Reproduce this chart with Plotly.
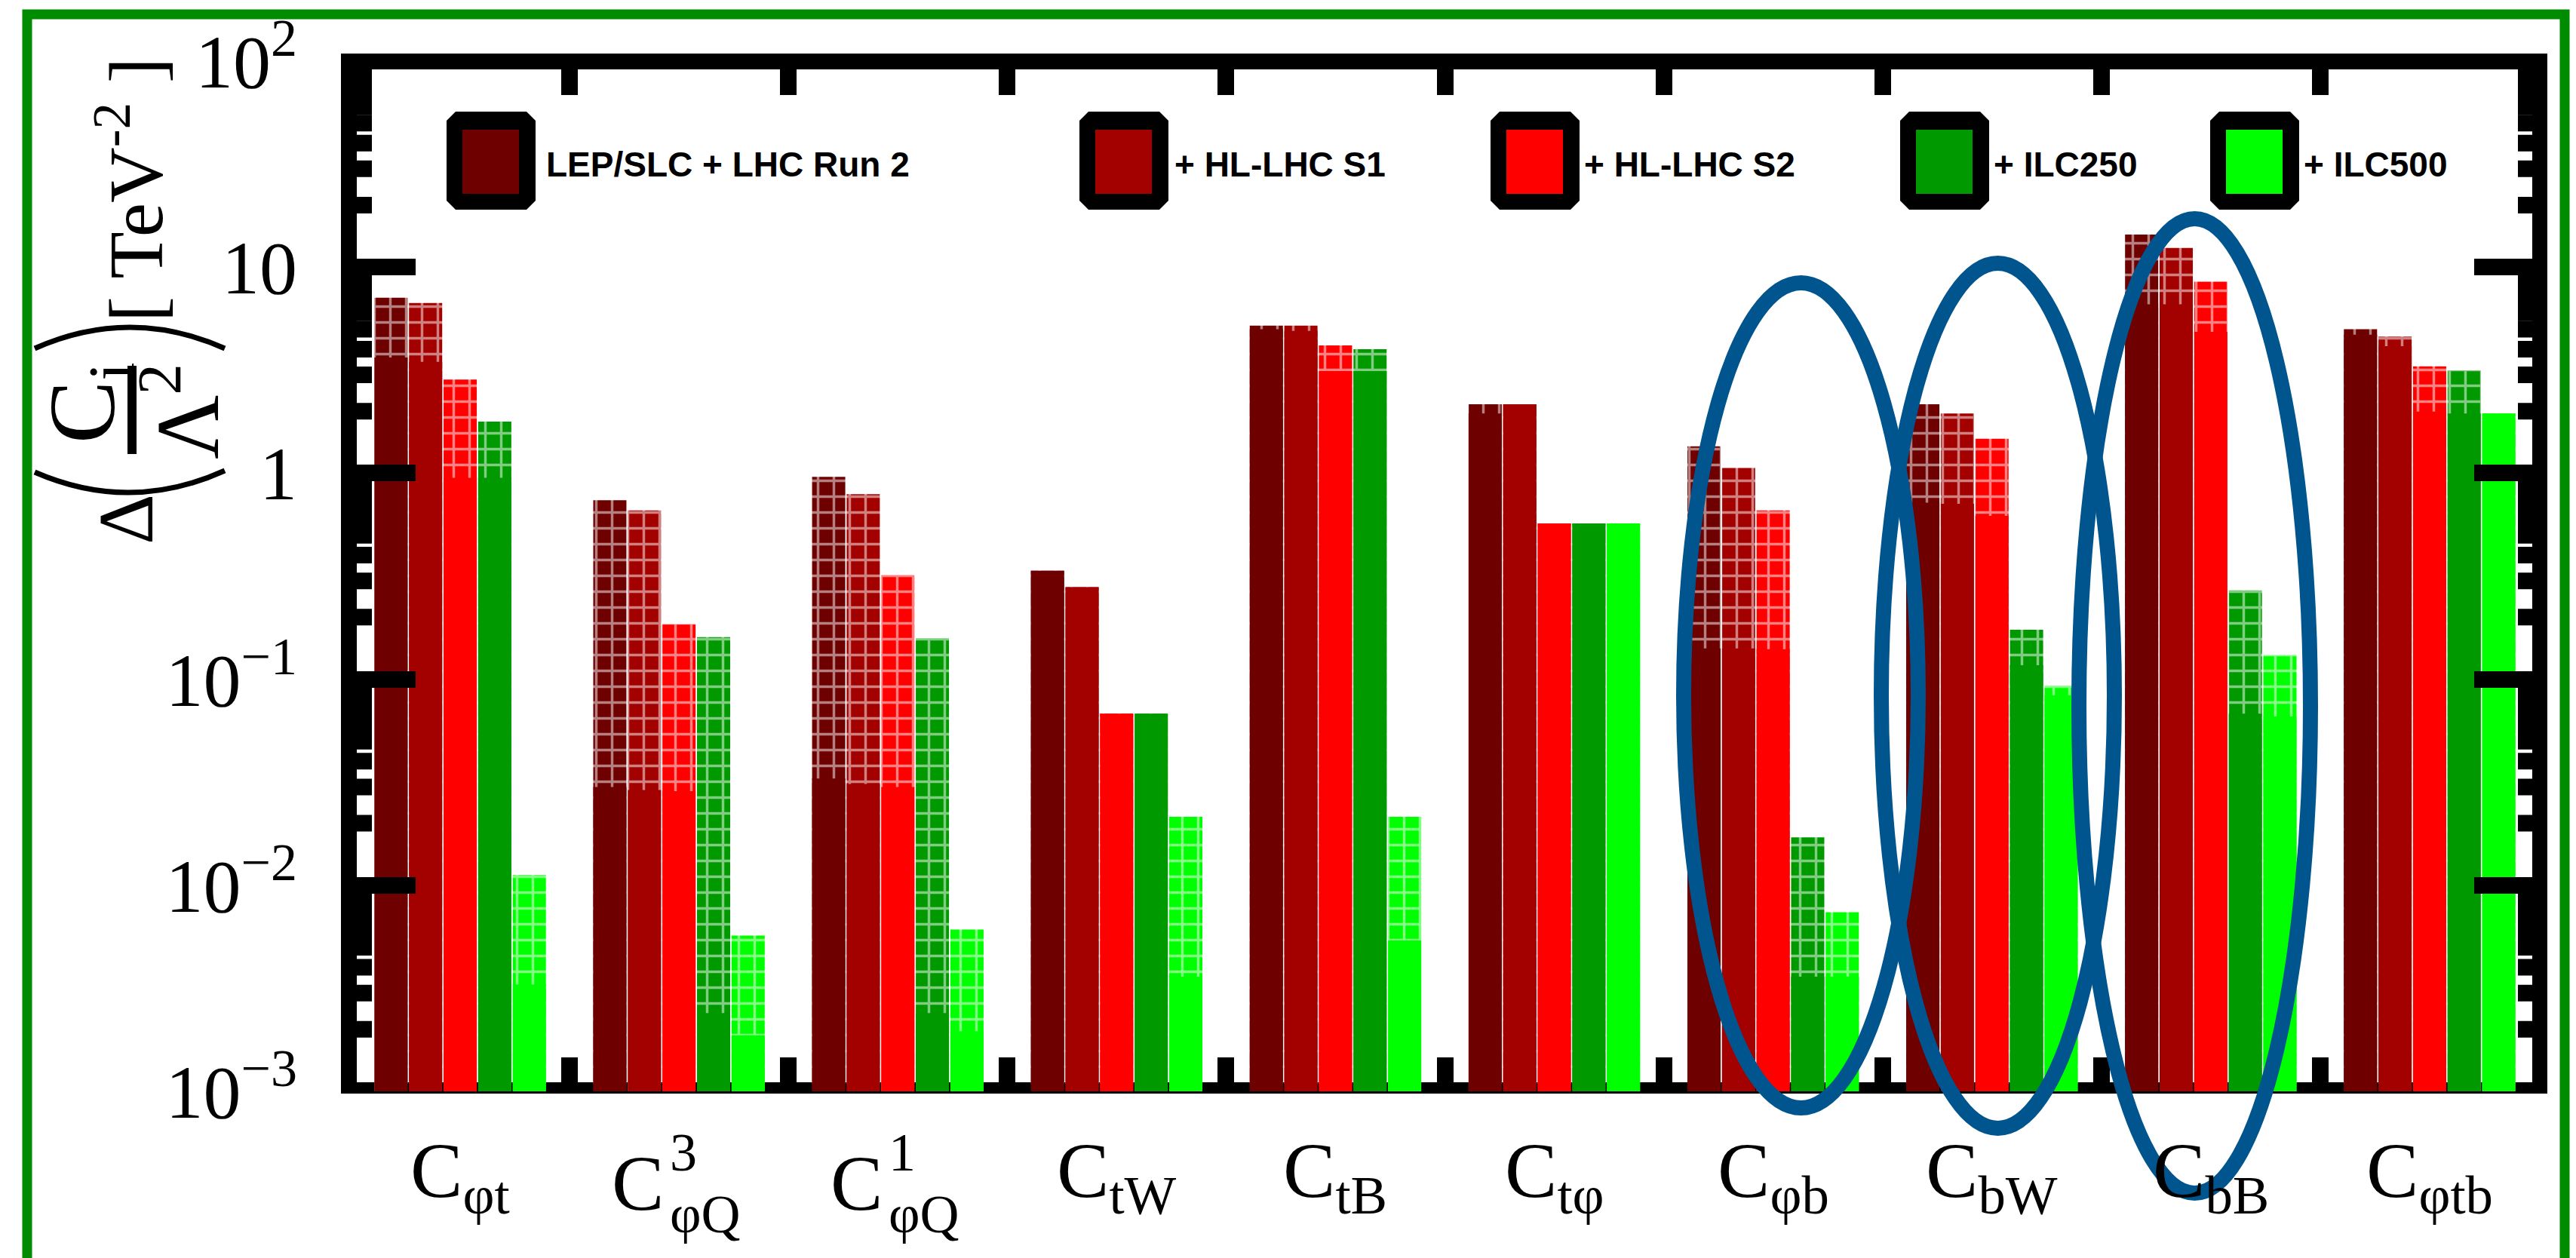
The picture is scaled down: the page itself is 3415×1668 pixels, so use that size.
import math
import plotly.graph_objects as go

# ---- data -------------------------------------------------------------
categories = ["Cphit", "Cphiq3", "Cphiq1", "CtW", "CtB", "Ctphi", "Cphib", "CbW", "CbB", "Cphitb"]
series = ["LEP/SLC + LHC Run 2", "+ HL-LHC S1", "+ HL-LHC S2", "+ ILC250", "+ ILC500"]
colors = ["#6e0000", "#a30000", "#ff0000", "#009900", "#00ff00"]

# global (marginalised) limits -> hatched part of each bar
run2_global = [7.1, 0.74, 0.96, 0.336, 5.2, 2.16, 1.35, 2.16, 14.4, 5.0]
s1_global = [6.7, 0.66, 0.79, 0.28, 5.2, 2.16, 1.06, 1.95, 12.4, 4.6]
s2_global = [2.85, 0.185, 0.32, 0.068, 4.17, 0.57, 0.66, 1.47, 8.5, 3.3]
ilc250_global = [1.78, 0.16, 0.158, 0.068, 4.0, 0.57, 0.0171, 0.174, 0.27, 3.16]
ilc500_global = [0.0112, 0.0057, 0.0061, 0.0215, 0.0215, 0.57, 0.0074, 0.093, 0.131, 1.95]

# individual (one operator at a time) limits -> solid part of each bar
run2_single = [3.64, 0.030, 0.033, 0.336, 5.0, 1.95, 0.141, 0.72, 6.6, 4.7]
s1_single = [3.47, 0.029, 0.031, 0.28, 4.9, 2.16, 0.141, 0.71, 6.6, 4.13]
s2_single = [0.95, 0.0286, 0.030, 0.068, 3.13, 0.57, 0.14, 0.62, 4.85, 1.99]
ilc250_single = [0.95, 0.0024, 0.0024, 0.068, 3.13, 0.57, 0.0036, 0.117, 0.068, 1.95]
ilc500_single = [0.0033, 0.00187, 0.00196, 0.0036, 0.0054, 0.57, 0.0036, 0.0836, 0.066, 1.95]

y_tickvals = [1e-3, 1e-2, 1e-1, 1, 10, 100]
y_ticktext = ["10<sup>\u22123</sup>", "10<sup>\u22122</sup>", "10<sup>\u22121</sup>", "1", "10", "10<sup>2</sup>"]

# category labels: (main, subscript, superscript)
cat_labels = [("C", "\u03c6t", None), ("C", "\u03c6Q", "3"), ("C", "\u03c6Q", "1"),
              ("C", "tW", None), ("C", "tB", None), ("C", "t\u03c6", None),
              ("C", "\u03c6b", None), ("C", "bW", None), ("C", "bB", None), ("C", "\u03c6tb", None)]

globals_ = [run2_global, s1_global, s2_global, ilc250_global, ilc500_global]
singles = [run2_single, s1_single, s2_single, ilc250_single, ilc500_single]

# ---- page geometry (pixels) ------------------------------------------
W, H = 3415, 1668
L, R, T, B = 465, 3366, 81, 1447
Y_LOG_MIN, Y_LOG_MAX = -3, 2


def px(x):
    return (x - L) / (R - L)


def py(y):
    return (B - y) / (B - T)


def py_val(v):
    return (math.log10(v) - Y_LOG_MIN) / (Y_LOG_MAX - Y_LOG_MIN)


SERIF = "Liberation Serif"
SANS = "Liberation Sans"

fig = go.Figure()

for name, col, hi, lo in zip(series, colors, globals_, singles):
    fig.add_trace(go.Bar(
        x=categories, y=hi, name=name, offsetgroup=name, showlegend=False,
        marker=dict(color=col, line=dict(width=0),
                    pattern=dict(shape="+", fgcolor="white", size=21, solidity=0.3)),
    ))
    fig.add_trace(go.Bar(
        x=categories, y=lo, name=name, offsetgroup=name, showlegend=False,
        marker=dict(color=col, line=dict(width=0)),
    ))

shapes = []
annotations = []

# thick frame
frame_boxes = [(452, 71, 473, 1450), (3357, 71, 3377, 1450), (452, 71, 3377, 92), (452, 1435, 3377, 1450)]
for x0, y0, x1, y1 in frame_boxes:
    shapes.append(dict(type="rect", xref="paper", yref="paper", layer="below",
                       x0=px(x0), x1=px(x1), y0=py(y1), y1=py(y0),
                       fillcolor="black", line=dict(width=0)))

# minor log ticks (2..9 in every decade), on both vertical sides
minor_vals = [k * 10.0 ** e for e in range(Y_LOG_MIN, Y_LOG_MAX) for k in range(2, 10)]
half = 11 / (B - T)
for v in minor_vals:
    yy = py_val(v)
    for xa, xb in ((452, 493), (3338, 3377)):
        shapes.append(dict(type="rect", xref="paper", yref="paper",
                           x0=px(xa), x1=px(xb), y0=yy - half, y1=yy + half,
                           fillcolor="black", line=dict(width=0)))

# legend row
leg_boxes = [592, 1431, 1976, 2519, 2930]
leg_text_x = [722, 1555, 2098, 2641, 3052]
for bx, tx, name, col in zip(leg_boxes, leg_text_x, series, colors):
    x0, x1, y0, y1, c = bx, bx + 118, 148, 278, 12
    pts = [(x0 + c, y0), (x1 - c, y0), (x1, y0 + c), (x1, y1 - c), (x1 - c, y1),
           (x0 + c, y1), (x0, y1 - c), (x0, y0 + c)]
    path = "M " + " L ".join(f"{px(a):.5f},{py(b):.5f}" for a, b in pts) + " Z"
    shapes.append(dict(type="path", xref="paper", yref="paper", path=path,
                       fillcolor="black", line=dict(width=0)))
    shapes.append(dict(type="rect", xref="paper", yref="paper",
                       x0=px(x0 + 21), x1=px(x1 - 22), y0=py(y1 - 21), y1=py(y0 + 24),
                       fillcolor=col, line=dict(width=0)))
    annotations.append(dict(text=f"<b>{name}</b>", xref="paper", yref="paper",
                            x=px(tx), y=py(218), xanchor="left", yanchor="middle",
                            showarrow=False, font=dict(family=SANS, size=46, color="black")))

# category labels below the frame
for cat, (main, sub, sup) in zip(categories, cat_labels):
    if sup is None:
        annotations.append(dict(text=f"{main}<sub>{sub}</sub>", x=cat, xref="x", yref="paper",
                                y=py(1492), xanchor="center", yanchor="top", showarrow=False,
                                font=dict(family=SERIF, size=104, color="black")))
    else:
        annotations.append(dict(text=main, x=cat, xref="x", yref="paper", xshift=-55,
                                y=py(1568), xanchor="center", yanchor="middle", showarrow=False,
                                font=dict(family=SERIF, size=104, color="black")))
        annotations.append(dict(text=sup, x=cat, xref="x", yref="paper", xshift=-14,
                                y=py(1528), xanchor="left", yanchor="middle", showarrow=False,
                                font=dict(family=SERIF, size=72, color="black")))
        annotations.append(dict(text=sub, x=cat, xref="x", yref="paper", xshift=-14,
                                y=py(1610), xanchor="left", yanchor="middle", showarrow=False,
                                font=dict(family=SERIF, size=72, color="black")))


# y-axis title: Delta( C_i / Lambda^2 ) [ TeV^-2 ], built from rotated pieces
def rot_text(text, x, y, size):
    annotations.append(dict(text=text, xref="paper", yref="paper", x=px(x), y=py(y),
                            xanchor="center", yanchor="middle", textangle=-90, showarrow=False,
                            font=dict(family=SERIF, size=size, color="black")))


rot_text("\u0394", 166, 689, 104)
rot_text("C<sub>i</sub>", 118, 534, 125)
rot_text("\u039b<sup>2</sup>", 240, 545, 118)
rot_text("[ TeV<sup>-2</sup> ]", 172, 252, 102)
shapes.append(dict(type="line", xref="paper", yref="paper", x0=px(175), x1=px(175),
                   y0=py(485), y1=py(602), line=dict(color="black", width=12)))
shapes.append(dict(type="path", xref="paper", yref="paper",
                   path=f"M {px(46)},{py(626)} Q {px(172)},{py(681)} {px(298)},{py(624)}",
                   line=dict(color="black", width=7)))
shapes.append(dict(type="path", xref="paper", yref="paper",
                   path=f"M {px(46)},{py(462)} Q {px(172)},{py(406)} {px(298)},{py(462)}",
                   line=dict(color="black", width=7)))

# highlighted coefficients
ellipses = [(2232, 375, 2543, 1469), (2494, 349, 2803, 1496), (2756, 290, 3063, 1582)]
for x0, y0, x1, y1 in ellipses:
    shapes.append(dict(type="circle", xref="paper", yref="paper",
                       x0=px(x0), x1=px(x1), y0=py(y1), y1=py(y0),
                       line=dict(color="#00558f", width=20)))

# outer green border
shapes.append(dict(type="rect", xref="paper", yref="paper",
                   x0=px(36), x1=px(3400), y0=py(1720), y1=py(19),
                   line=dict(color="#008c00", width=13)))

fig.update_layout(
    width=W, height=H,
    margin=dict(l=L, r=W - R, t=T, b=H - B, pad=0),
    paper_bgcolor="white", plot_bgcolor="white",
    barmode="group", bargap=0.21, bargroupgap=0.04,
    shapes=shapes, annotations=annotations,
    xaxis=dict(type="category", range=[-0.5, 9.5], showticklabels=False,
               ticks="inside", tickson="boundaries", ticklen=45, tickwidth=22,
               tickcolor="black", mirror="ticks", showline=False, showgrid=False, zeroline=False),
    yaxis=dict(type="log", range=[Y_LOG_MIN, Y_LOG_MAX], tickvals=y_tickvals, ticktext=y_ticktext,
               ticks="inside", ticklen=86, tickwidth=22, tickcolor="black", mirror="ticks",
               showline=False, showgrid=False, zeroline=False, ticklabelstandoff=70,
               tickfont=dict(family=SERIF, size=100, color="black")),
)

fig.write_html("out.html")
